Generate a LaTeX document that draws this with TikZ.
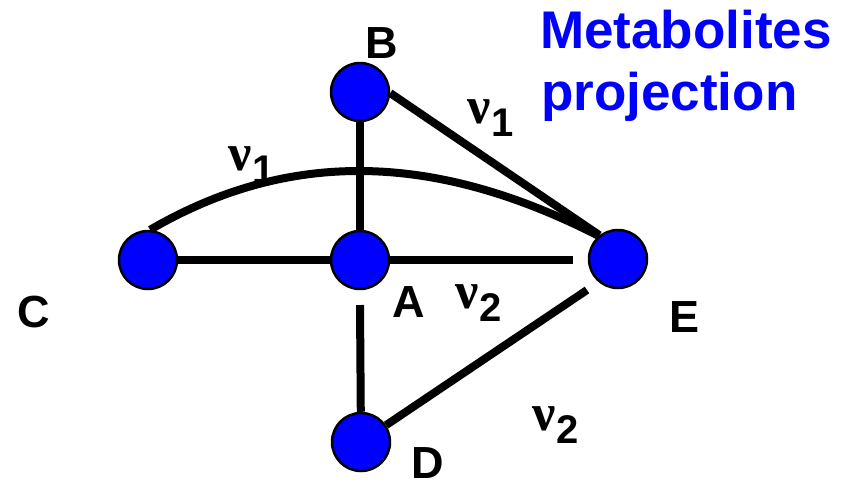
\documentclass[tikz,border=0pt]{standalone}
\usepackage{fontspec}
\setmainfont{Liberation Sans}
\newfontfamily\nufont{Liberation Serif}
\definecolor{mblue}{RGB}{0,0,255}
\pgfdeclarelayer{edgelayer}
\pgfsetlayers{edgelayer,main}
\newcommand\nusub[1]{{\nufont\bfseries\fontsize{52}{52}\selectfont ν}\kern1pt\raisebox{-13pt}{\bfseries\fontsize{40}{40}\selectfont #1}}
\begin{document}
\begin{tikzpicture}[x=1pt,y=-1pt,
  vtx/.style={circle,draw=black,line width=2.5pt,fill=mblue,minimum size=58pt,inner sep=0pt},
  edge/.style={line width=8pt,draw=black},
  lbl/.style={font=\fontsize{45}{45}\selectfont\bfseries,anchor=base,inner sep=0pt},
  nul/.style={anchor=base west,inner sep=0pt},
  ttl/.style={font=\fontsize{53}{53}\selectfont\bfseries,text=mblue,anchor=base west,inner sep=0pt}]
\useasboundingbox (0,0) rectangle (843,483);
\node[vtx] (B) at (360,92) {};
\node[vtx] (C) at (148,260) {};
\node[vtx] (A) at (360,260) {};
\node[vtx] (E) at (618,259) {};
\node[vtx] (D) at (361,442) {};
\coordinate (AEend) at (573,260);
\coordinate (ADstart) at (360,305);
\coordinate (EDstart) at (587,290);
\begin{pgfonlayer}{edgelayer}
\draw[edge] (B) -- (A);
\draw[edge] (C) -- (A);
\draw[edge] (A) -- (AEend);
\draw[edge] (ADstart) -- (D);
\draw[edge] (EDstart) -- (D);
\end{pgfonlayer}
\draw[edge] (B.-2) -- (E.128);
\draw[edge] (C.86) .. controls (299,143) and (447,158.5) .. (E.130);
\node[nul] (nu1) at (467,123) {\nusub{1}};
\node[nul] (nu2) at (228,170) {\nusub{1}};
\node[nul] (nu3) at (455,308) {\nusub{2}};
\node[nul] (nu4) at (532,430) {\nusub{2}};
\node[lbl] (lB) at (382,58) {B};
\node[lbl] (lC) at (34,327) {C};
\node[lbl] (lA) at (409,317) {A};
\node[lbl] (lE) at (684,332) {E};
\node[lbl] (lD) at (428,478.5) {D};
\node[ttl] (t1) at (540,48) {Metabolites};
\node[ttl] (t2) at (541,110) {projection};
\end{tikzpicture}
\end{document}
